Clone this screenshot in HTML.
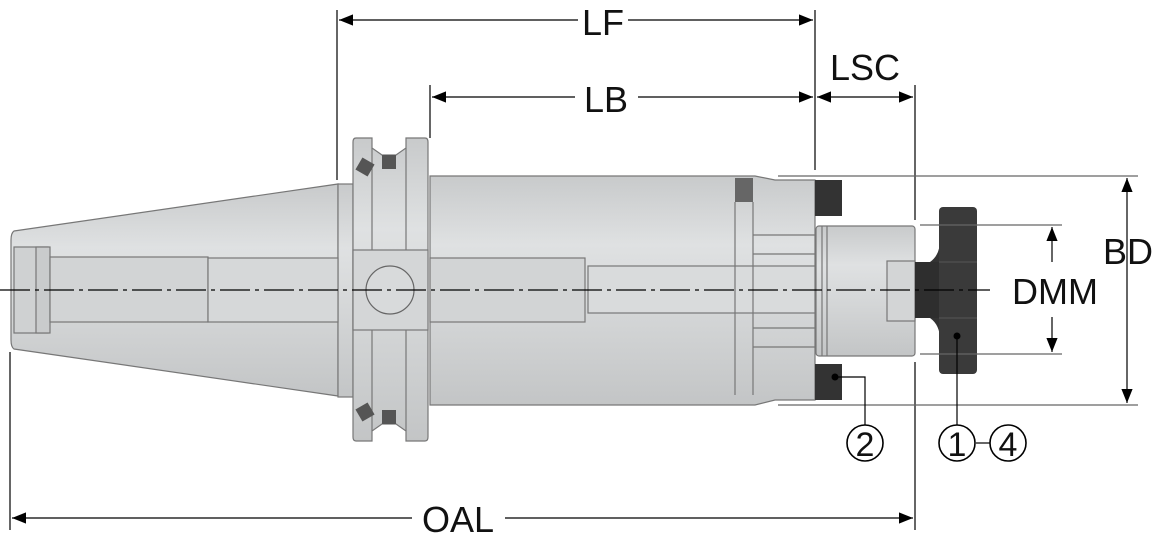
<!DOCTYPE html>
<html><head><style>
html,body{margin:0;padding:0;background:#fff;}
svg{display:block}
text{font-family:"Liberation Sans",sans-serif;fill:#111}
</style></head><body>
<svg width="1156" height="543" viewBox="0 0 1156 543" xmlns="http://www.w3.org/2000/svg">
<defs>
<linearGradient id="g" x1="0" y1="0" x2="0" y2="1">
<stop offset="0" stop-color="#c8cacb"/><stop offset="0.3" stop-color="#dfe1e2"/><stop offset="0.6" stop-color="#d4d6d7"/><stop offset="1" stop-color="#c3c5c6"/>
</linearGradient>
<marker id="a" viewBox="0 0 10 10" refX="10" refY="5" markerWidth="14" markerHeight="14" markerUnits="userSpaceOnUse" orient="auto-start-reverse"><path d="M0,1 L10,5 L0,9 z" fill="#000"/></marker>
</defs>
<g stroke="#777" stroke-width="1.2" fill="url(#g)">
<!-- taper -->
<path d="M14,231 L338,184 L338,396 L14,349 Q11,347 11,340 L11,240 Q11,233 14,231z"/>
<rect x="338" y="184" width="15" height="213"/>
<rect x="14" y="247" width="34" height="86" fill="#cfd1d2"/>
<rect x="36" y="247" width="14" height="86" fill="#c9cbcc"/>
<rect x="50" y="257" width="158" height="65" fill="#d2d4d5"/>
<rect x="208" y="258" width="130" height="64" fill="#d6d8d9"/>
<!-- flange -->
<path d="M356,138 L372,138 L372,148 L382,155 L396,155 L406,148 L406,138 L425,138 Q428,138 428,142 L428,437 Q428,441 425,441 L406,441 L406,431 L396,424 L382,424 L372,431 L372,441 L356,441 Q353,441 353,437 L353,142 Q353,138 356,138z"/>
<rect x="353" y="250" width="75" height="80" fill="#d4d6d7"/>
<circle cx="390" cy="290" r="24" fill="#d8dadb" stroke="#666"/>
<line x1="372" y1="148" x2="372" y2="250"/><line x1="406" y1="148" x2="406" y2="250"/>
<line x1="372" y1="330" x2="372" y2="431"/><line x1="406" y1="330" x2="406" y2="431"/>
<rect x="382" y="155" width="14" height="14" fill="#555" stroke="none"/>
<rect x="382" y="410" width="14" height="14" fill="#555" stroke="none"/>
<rect x="358" y="160" width="14" height="14" fill="#555" stroke="none" transform="rotate(30 365 167)"/>
<rect x="358" y="405" width="14" height="14" fill="#555" stroke="none" transform="rotate(-30 365 412)"/>
<!-- body -->
<path d="M430,176 L755,176 L775,180 L815,180 L815,400 L775,400 L755,405 L430,405z"/>
<rect x="430" y="258" width="155" height="64" fill="#d2d4d5"/>
<rect x="588" y="266" width="227" height="47" fill="#d9dbdc"/>
<rect x="735" y="178" width="18" height="24" fill="#666" stroke="none"/>
<line x1="735" y1="202" x2="735" y2="395"/><line x1="753" y1="202" x2="753" y2="395"/>
<line x1="753" y1="235" x2="815" y2="235"/><line x1="753" y1="254" x2="815" y2="254"/>
<line x1="753" y1="328" x2="815" y2="328"/><line x1="753" y1="347" x2="815" y2="347"/>
<!-- collet -->
<rect x="816" y="226" width="99" height="130" rx="3"/>
<line x1="822" y1="226" x2="822" y2="356"/><line x1="827" y1="226" x2="827" y2="356"/>
<rect x="887" y="261" width="28" height="60" fill="#d3d5d6"/>
</g>
<rect x="815" y="180" width="27" height="36" fill="#333"/>
<rect x="815" y="364" width="27" height="36" fill="#333"/>
<!-- cutter -->
<path d="M915,262 L930,262 Q940,255 940,240 L940,262z" fill="#333"/>
<rect x="915" y="262" width="28" height="56" fill="#2e2e2e"/>
<path d="M930,318 Q940,325 940,340 L940,318z" fill="#333"/>
<rect x="939" y="207" width="38" height="167" rx="4" fill="#3a3a3a"/>
<line x1="939" y1="262" x2="977" y2="262" stroke="#555"/><line x1="939" y1="318" x2="977" y2="318" stroke="#555"/>
<!-- center line -->
<line x1="0" y1="290" x2="990" y2="290" stroke="#000" stroke-width="1.2" stroke-dasharray="30,5,4,5"/>
<!-- extension lines -->
<g stroke="#000" stroke-width="1.2">
<line x1="337" y1="10" x2="337" y2="180"/>
<line x1="430" y1="85" x2="430" y2="138"/>
<line x1="815" y1="10" x2="815" y2="170"/>
<line x1="915" y1="85" x2="915" y2="220"/>
<line x1="915" y1="362" x2="915" y2="530"/>
<line x1="10" y1="352" x2="10" y2="530"/>
<line x1="778" y1="176" x2="1138" y2="176" stroke="#666"/>
<line x1="778" y1="405" x2="1138" y2="405" stroke="#666"/>
<line x1="920" y1="225" x2="1062" y2="225" stroke="#666"/>
<line x1="920" y1="354" x2="1062" y2="354" stroke="#666"/>
<!-- dims -->
<line x1="339" y1="20" x2="578" y2="20" marker-start="url(#a)"/>
<line x1="628" y1="20" x2="813" y2="20" marker-end="url(#a)"/>
<line x1="432" y1="97" x2="575" y2="97" marker-start="url(#a)"/>
<line x1="638" y1="97" x2="813" y2="97" marker-end="url(#a)"/>
<line x1="817" y1="97" x2="913" y2="97" marker-start="url(#a)" marker-end="url(#a)"/>
<line x1="12" y1="518" x2="412" y2="518" marker-start="url(#a)"/>
<line x1="505" y1="518" x2="913" y2="518" marker-end="url(#a)"/>
<line x1="1127" y1="178" x2="1127" y2="403" marker-start="url(#a)" marker-end="url(#a)"/>
<line x1="1052" y1="227" x2="1052" y2="262" marker-start="url(#a)"/>
<line x1="1052" y1="317" x2="1052" y2="352" marker-end="url(#a)"/>
<!-- leaders -->
<polyline points="835,377 865,377 865,425" fill="none"/>
<line x1="957" y1="336" x2="957" y2="425"/>
<line x1="976" y1="443" x2="990" y2="443"/>
</g>
<circle cx="835" cy="377" r="3.5" fill="#000"/>
<circle cx="957" cy="336" r="3.5" fill="#000"/>
<g fill="none" stroke="#000" stroke-width="1.6">
<circle cx="865" cy="443" r="18"/><circle cx="957" cy="443" r="18"/><circle cx="1008" cy="443" r="18"/>
</g>
<text x="865" y="456" font-size="34" text-anchor="middle">2</text>
<text x="957" y="456" font-size="34" text-anchor="middle">1</text>
<text x="1008" y="456" font-size="34" text-anchor="middle">4</text>
<text x="603" y="35" font-size="36" text-anchor="middle">LF</text>
<text x="606" y="112" font-size="36" text-anchor="middle">LB</text>
<text x="865" y="80" font-size="36" text-anchor="middle">LSC</text>
<text x="1128" y="264" font-size="36" text-anchor="middle">BD</text>
<text x="1055" y="304" font-size="36" text-anchor="middle">DMM</text>
<text x="458" y="532" font-size="36" text-anchor="middle">OAL</text>
</svg>
</body></html>
